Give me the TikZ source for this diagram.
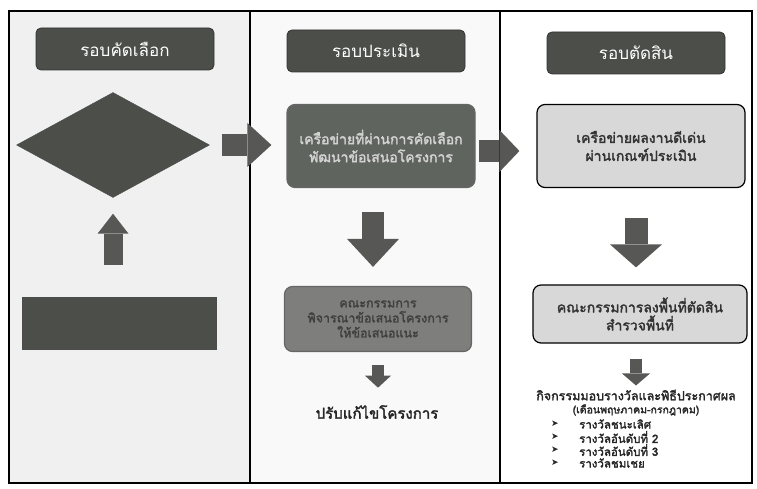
\documentclass[tikz,border=0pt]{standalone}
\usepackage{fontspec}
\newfontfamily\thaifont[Script=Thai]{Loma}
\newfontfamily\thaibold[Script=Thai,FakeBold=2.2]{Loma}
\newfontfamily\symfont{DejaVu Sans}
\usetikzlibrary{arrows.meta,shapes.geometric}
\definecolor{hdr}{HTML}{4B4E49}
\definecolor{darkbox}{HTML}{60645F}
\definecolor{midbox}{HTML}{7E7F7C}
\definecolor{lightbox}{HTML}{D8D8D8}
\definecolor{arrowc}{HTML}{575855}
\begin{document}
\begin{tikzpicture}[x=1pt,y=-1pt,font=\thaifont,
  header/.style={draw=black!80,fill=hdr,rounded corners=5pt,minimum width=178pt,minimum height=42pt,
    text=white,font=\thaifont\fontsize{17}{19}\selectfont,line width=0.8pt},
  box/.style={rounded corners=8pt,line width=1.2pt,align=center,inner sep=0pt,
    font=\thaibold\fontsize{14}{18}\selectfont},
  fat/.style n args={3}{draw=arrowc,line width=#1,-{Triangle[width=#2,length=#3,line width=0pt]}},
  bullettext/.style={anchor=west,font=\thaibold\fontsize{11.5}{13}\selectfont,text=black!85,inner sep=1pt},
  bulletmark/.style={anchor=west,font=\symfont\fontsize{9}{11}\selectfont,text=black!85,inner sep=1pt}
]
\useasboundingbox (0,0) rectangle (757,489);
% column backgrounds
\fill[gray!12] (9,11) rectangle (250,483);
\fill[gray!5] (250,11) rectangle (500,483);
\draw[line width=1.2pt] (9,11) rectangle (752,483);
\draw[line width=1.2pt] (250,11) -- (250,483);
\draw[line width=1.2pt] (500,11) -- (500,483);

% headers
\node[header] (h1) at (125,49) {รอบคัดเลือก};
\node[header] (h2) at (376,51) {รอบประเมิน};
\node[header] (h3) at (636,53) {รอบตัดสิน};

% left column
\node[diamond,fill=hdr,draw=black!70,minimum width=193pt,minimum height=105pt,inner sep=0pt] (dia) at (113,145) {};
\node[fill=hdr,draw=black!70,minimum width=194pt,minimum height=52pt] (rb) at (119,323) {};

% middle column
\node[box,fill=darkbox,draw=black!60,text=gray!35,minimum width=188pt,minimum height=83pt] (m1) at (381,146)
  {เครือข่ายที่ผ่านการคัดเลือก\\พัฒนาข้อเสนอโครงการ};
\node[box,fill=midbox,draw=black!60,text=black!75,minimum width=187pt,minimum height=65pt,
  font=\thaibold\fontsize{12.5}{15}\selectfont] (m2) at (378,319)
  {คณะกรรมการ\\พิจารณาข้อเสนอโครงการ\\ให้ข้อเสนอแนะ};
\node[font=\thaibold\fontsize{15}{17}\selectfont,text=black!85] (m3) at (377,412) {ปรับแก้ไขโครงการ};

% right column
\node[box,fill=lightbox,draw=black,text=black!80,minimum width=208pt,minimum height=83pt] (r1) at (641,146)
  {เครือข่ายผลงานดีเด่น\\ผ่านเกณฑ์ประเมิน};
\node[box,fill=lightbox,draw=black,text=black!80,minimum width=214pt,minimum height=58pt] (r2) at (640,314)
  {คณะกรรมการลงพื้นที่ตัดสิน\\สำรวจพื้นที่};
\node[font=\thaibold\fontsize{12.5}{14}\selectfont,text=black!85,inner sep=1pt] (t) at (636,395)
  {กิจกรรมมอบรางวัลและพิธีประกาศผล};
\node[font=\thaibold\fontsize{10.5}{12}\selectfont,text=black!85,inner sep=1pt] (tp) at (636,410)
  {(เดือนพฤษภาคม-กรกฎาคม)};
\node[bulletmark] (k1) at (550,424) {➤};
\node[bulletmark] (k2) at (550,437) {➤};
\node[bulletmark] (k3) at (550,450) {➤};
\node[bulletmark] (k4) at (550,463) {➤};
\node[bullettext] (b1) at (578,424) {รางวัลชนะเลิศ};
\node[bullettext] (b2) at (578,437) {รางวัลอันดับที่ 2};
\node[bullettext] (b3) at (578,450) {รางวัลอันดับที่ 3};
\node[bullettext] (b4) at (578,463) {รางวัลชมเชย};

% block arrows
\draw[fat={19pt}{31pt}{20pt},shorten <=32pt,shorten >=16pt] (rb.north -| dia.south) -- (dia.south);
\draw[fat={22pt}{44pt}{24pt},shorten <=12pt,shorten >=15pt] (dia.east) -- (dia.east -| m1.west);
\draw[fat={22pt}{42pt}{20pt},shorten <=3pt,shorten >=17pt] ([yshift=-5pt]m1.east) -- ([yshift=-5pt]r1.west);
\draw[fat={22pt}{52pt}{28pt},shorten <=24pt,shorten >=19pt] ([xshift=-8pt]m1.south) -- ([xshift=-8pt]m1.south |- m2.north);
\draw[fat={23pt}{52pt}{23pt},shorten <=30pt,shorten >=17pt] ([xshift=-5pt]r1.south) -- ([xshift=-5pt]r1.south |- r2.north);
\draw[fat={12pt}{26pt}{12pt},shorten <=13pt,shorten >=14pt] (m2.south) -- (m2.south |- m3.north);
\draw[fat={12pt}{28pt}{12pt},shorten <=15pt,shorten >=3pt] ([xshift=-4pt]r2.south) -- ([xshift=-4pt]r2.south |- t.north);
\end{tikzpicture}
\end{document}
